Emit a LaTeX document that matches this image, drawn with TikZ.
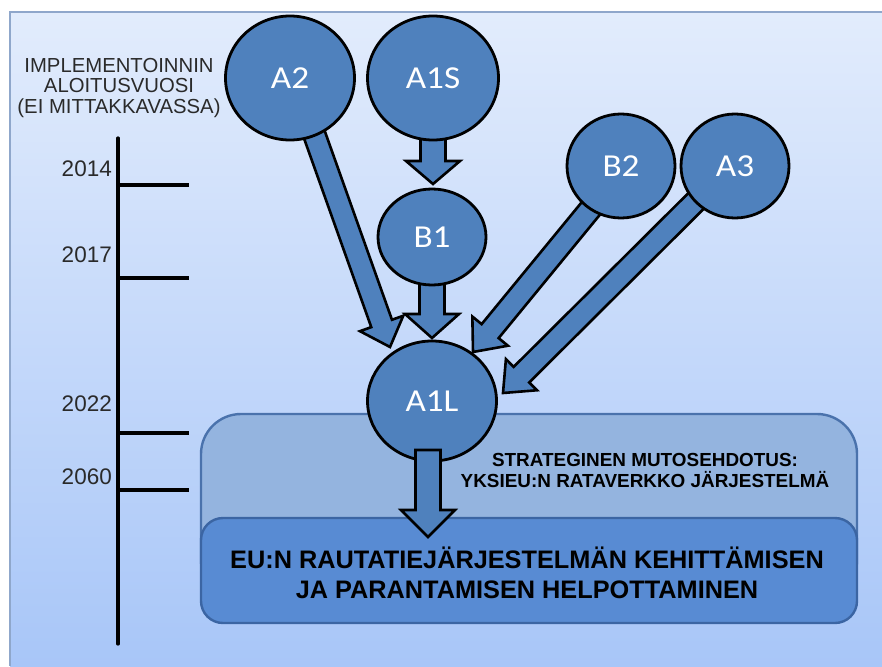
\documentclass[tikz,border=0pt]{standalone}
\usepackage{fontspec}
\setmainfont{Liberation Sans}
\newfontfamily\labelfont[FakeStretch=1.1]{Carlito}
\usetikzlibrary{calc,shapes.geometric}

\definecolor{bgtop}{HTML}{E2ECFC}
\definecolor{bgbot}{HTML}{A8C6F8}
\definecolor{framecol}{HTML}{8FA7CB}
\definecolor{nodeblue}{HTML}{4F81BD}
\definecolor{topfill}{HTML}{94B4DF}
\definecolor{topedge}{HTML}{4A72AC}
\definecolor{lowfill}{HTML}{588BD3}
\definecolor{lowedge}{HTML}{3B65A3}
\definecolor{inkgrey}{HTML}{2A2A2A}

% block arrow: #1 start, #2 tip, #3 shaft half width, #4 head half width, #5 head length
\newcommand\blockarrow[5]{%
  \coordinate (#1-#2-h) at ($(#2)!#5!(#1)$);
  \draw[arrowbody]
    ($(#1)!#3!90:(#2)$) -- ($(#1-#2-h)!#3!90:(#2)$) -- ($(#1-#2-h)!#4!90:(#2)$)
    -- (#2)
    -- ($(#1-#2-h)!#4!-90:(#2)$) -- ($(#1-#2-h)!#3!-90:(#2)$) -- ($(#1)!#3!-90:(#2)$)
    -- cycle;
}

\begin{document}
\begin{tikzpicture}[x=1pt,y=-1pt,
  bubble/.style={ellipse, draw=black, line width=2.8pt, fill=nodeblue,
    text=white, inner sep=0pt, font=\labelfont\fontsize{32}{32}\selectfont},
  arrowbody/.style={draw=black, line width=2.6pt, fill=nodeblue, line join=miter},
  tick/.style={line width=3.2pt, black},
  yearlabel/.style={anchor=east, inner sep=0pt, text=inkgrey,
    font=\fontsize{22.5}{22.5}\selectfont},
]
\useasboundingbox (0,0) rectangle (882,666);

% page and gradient panel
\fill[white] (0,0) rectangle (882,666);
\shade[top color=bgtop, bottom color=bgbot] (10,12) rectangle (882,666);
\draw[framecol, line width=1.4pt] (10,666) -- (10,12) -- (882,12);

% timeline
\node[align=center, inner sep=0pt, text=inkgrey,
  font=\fontsize{20.3}{20.5}\selectfont] (axistitle) at (119,88)
  {IMPLEMENTOINNIN\\ALOITUSVUOSI\\(EI MITTAKKAVASSA)};
\coordinate (axtop) at (118,138);
\coordinate (axbot) at (118,644);
\draw[tick, line cap=round] (axtop) -- (axbot);
\foreach \yy/\lab/\ly/\nm in {185/2014/169/a, 278/2017/255/b, 433/2022/404/c, 490/2060/477/d}{
  \coordinate (t\nm) at (118,\yy);
  \coordinate (te\nm) at (189,\yy);
  \draw[tick] (t\nm) -- (te\nm);
  \node[yearlabel] (y\nm) at (112,\ly) {\lab};
}

% goal boxes
\draw[fill=topfill, draw=topedge, line width=2.4pt, rounded corners=40pt]
  (201,414) rectangle (857,600);
\node[align=center, inner sep=0pt, text=black,
  font=\bfseries\fontsize{18.9}{21}\selectfont] (strategy) at (645,470)
  {STRATEGINEN MUTOSEHDOTUS:\\YKSIEU:N RATAVERKKO JÄRJESTELMÄ};
\draw[fill=lowfill, draw=lowedge, line width=2.4pt, rounded corners=22pt]
  (201,518) rectangle (857,623);
\node[align=center, inner sep=0pt, text=black,
  font=\bfseries\fontsize{25.3}{30}\selectfont] (goal) at (527,573)
  {EU:N RAUTATIEJÄRJESTELMÄN KEHITTÄMISEN\\JA PARANTAMISEN HELPOTTAMINEN};

% arrow end points
\coordinate (a2s) at (312,128);
\coordinate (a2e) at (390,347);
\coordinate (a1ss) at (433,130);
\coordinate (a1se) at (433,184);
\coordinate (b1s) at (432,275);
\coordinate (b1e) at (432,338);
\coordinate (b2s) at (592,207);
\coordinate (b2e) at (473,352);
\coordinate (a3s) at (697,200);
\coordinate (a3e) at (503,393);
\coordinate (a1ls) at (428,450);
\coordinate (a1le) at (428,537);

\blockarrow{a2s}{a2e}{11pt}{23pt}{25pt}
\blockarrow{a1ss}{a1se}{12.5pt}{27pt}{23pt}
\blockarrow{b1s}{b1e}{12.5pt}{27pt}{24pt}
\blockarrow{b2s}{b2e}{11pt}{23pt}{27pt}
\blockarrow{a3s}{a3e}{11pt}{22pt}{26pt}

% stages
\node[bubble, minimum width=129pt, minimum height=124pt] (A2)  at (290,78)  {A2};
\node[bubble, minimum width=131pt, minimum height=124pt] (A1S) at (433,78)  {A1S};
\node[bubble, minimum width=108pt, minimum height=96pt]  (B1)  at (432,237) {B1};
\node[bubble, minimum width=108pt, minimum height=104pt] (B2)  at (621,166) {B2};
\node[bubble, minimum width=108pt, minimum height=104pt] (A3)  at (735,166) {A3};
\node[bubble, minimum width=129pt, minimum height=120pt] (A1L) at (432,401) {A1L};

\blockarrow{a1ls}{a1le}{12.5pt}{27pt}{27pt}
\end{tikzpicture}
\end{document}
